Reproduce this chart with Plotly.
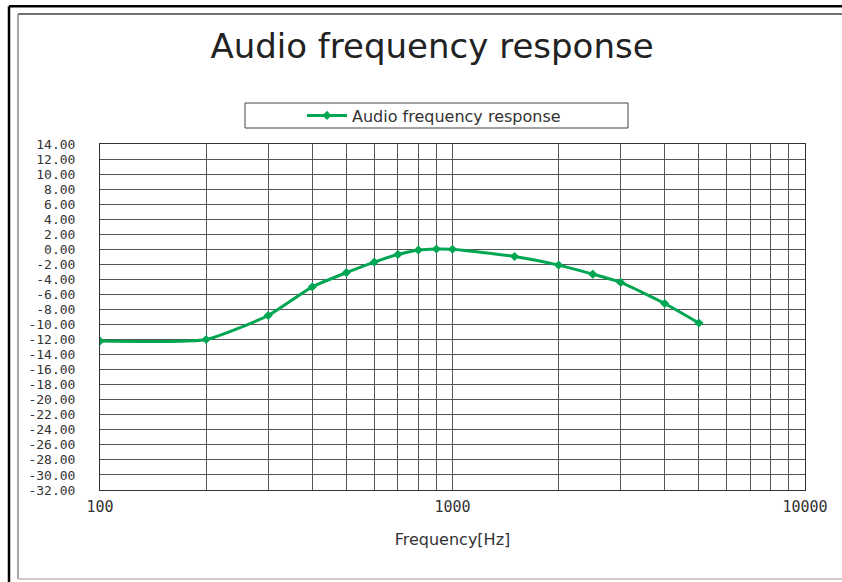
import plotly.graph_objects as go

# ---- data ----
frequency_hz = [100, 200, 300, 400, 500, 600, 700, 800, 900, 1000,
                1500, 2000, 2500, 3000, 4000, 5000]
response_db = [-12.2, -12.0, -8.8, -5.0, -3.1, -1.7, -0.7, -0.1, 0.05, 0.0,
               -0.95, -2.1, -3.3, -4.4, -7.2, -9.8]

x_tickvals = [100, 200, 300, 400, 500, 600, 700, 800, 900,
              1000, 2000, 3000, 4000, 5000, 6000, 7000, 8000, 9000, 10000]
x_ticktext = ["100", "", "", "", "", "", "", "", "",
              "1000", "", "", "", "", "", "", "", "", "10000"]
y_tickvals = list(range(-32, 16, 2))
y_ticktext = [f"{v:.2f}" for v in y_tickvals]

series_name = "Audio frequency response"
title_text = "Audio frequency response"
x_title = "Frequency[Hz]"

GREEN = "#00A651"
GRID = "#555555"
FONT = "DejaVu Sans"
MONO = "DejaVu Sans Mono"

# plot area in pixels
W, H = 842, 582
L, R, T, B = 100, 805, 144, 490


def px_x(p):
    return (p - L) / (R - L)


def px_y(p):
    return (B - p) / (B - T)


fig = go.Figure()
fig.add_trace(go.Scatter(
    x=frequency_hz, y=response_db, name=series_name,
    mode="lines+markers",
    line=dict(color=GREEN, width=3, shape="spline", smoothing=0.5),
    marker=dict(symbol="diamond", size=7, color=GREEN),
    showlegend=True,
))

shapes = [
    # legend frame
    dict(type="rect", xref="paper", yref="paper",
         x0=px_x(245), x1=px_x(628), y0=px_y(128), y1=px_y(103),
         line=dict(color="#444444", width=1), fillcolor="rgba(0,0,0,0)"),
    # outer black frame
    dict(type="line", xref="paper", yref="paper",
         x0=px_x(9), x1=px_x(900), y0=px_y(6.3), y1=px_y(6.3),
         line=dict(color="black", width=2.5)),
    dict(type="line", xref="paper", yref="paper",
         x0=px_x(9), x1=px_x(9), y0=px_y(6.3), y1=px_y(700),
         line=dict(color="black", width=2.5)),
    # inner grey frame
    dict(type="line", xref="paper", yref="paper",
         x0=px_x(18), x1=px_x(900), y0=px_y(14), y1=px_y(14),
         line=dict(color="#444444", width=1.5)),
    dict(type="line", xref="paper", yref="paper",
         x0=px_x(18), x1=px_x(18), y0=px_y(14), y1=px_y(579),
         line=dict(color="#888888", width=1.5)),
    dict(type="line", xref="paper", yref="paper",
         x0=px_x(18), x1=px_x(900), y0=px_y(579), y1=px_y(579),
         line=dict(color="#bbbbbb", width=1.5)),
]

fig.update_layout(
    width=W, height=H,
    margin=dict(l=L, r=W - R, t=T, b=H - B, pad=0),
    paper_bgcolor="white", plot_bgcolor="white",
    font=dict(family=FONT, color="#333333"),
    title=dict(text=title_text, x=px_x(432), xanchor="center",
               xref="paper", y=1 - 46 / H, yanchor="middle",
               font=dict(size=34, color="#222222", family=FONT)),
    showlegend=True,
    legend=dict(x=px_x(302), y=px_y(115.5), xanchor="left", yanchor="middle",
                xref="paper", yref="paper",
                bgcolor="rgba(0,0,0,0)", borderwidth=0,
                font=dict(size=16, color="#333333", family=FONT),
                itemwidth=40, tracegroupgap=0),
    shapes=shapes,
    xaxis=dict(type="log", range=[2, 4],
               tickmode="array", tickvals=x_tickvals, ticktext=x_ticktext,
               showgrid=True, gridcolor=GRID, gridwidth=1,
               showline=True, linecolor="#333333", linewidth=1, mirror=True,
               ticks="", ticklabelstandoff=3,
               tickfont=dict(size=15, color="#333333", family=MONO),
               zeroline=False,
               title=dict(text=x_title, standoff=18,
                          font=dict(size=16, color="#333333", family=FONT))),
    yaxis=dict(range=[-32, 14],
               tickmode="array", tickvals=y_tickvals, ticktext=y_ticktext,
               showgrid=True, gridcolor=GRID, gridwidth=1,
               showline=True, linecolor="#333333", linewidth=1, mirror=True,
               ticks="", ticklabelstandoff=21,
               tickfont=dict(size=13, color="#333333", family=MONO),
               zeroline=False),
)

fig.write_html("out.html",
               config={"displayModeBar": False},
               post_script="document.body.style.margin='0';"
                           "document.body.style.overflow='hidden';")
